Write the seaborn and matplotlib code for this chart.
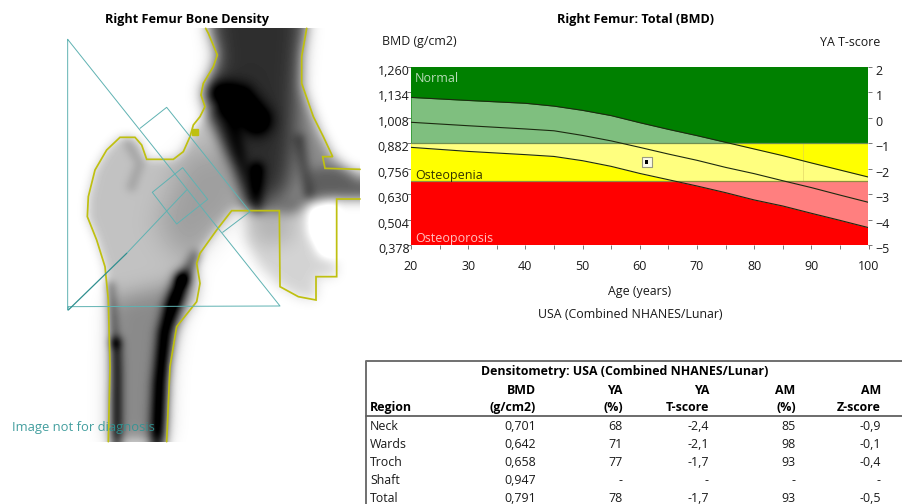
import numpy as np
import pandas as pd
import matplotlib
matplotlib.use("Agg")
import matplotlib.pyplot as plt
import matplotlib.transforms as mtrans
from matplotlib.path import Path
from matplotlib.ticker import MultipleLocator, FixedLocator, FixedFormatter
import seaborn as sns

# ---------- chart values ----------
ages = [20, 30, 40, 45, 50, 55, 60, 65, 70, 75, 80, 85, 90, 95, 100]
upper_curve = [1.108, 1.093, 1.079, 1.065, 1.044, 1.018, 0.983, 0.950, 0.919, 0.886, 0.853, 0.820, 0.784, 0.749, 0.714]
middle_curve = [0.985, 0.968, 0.952, 0.943, 0.920, 0.893, 0.861, 0.828, 0.797, 0.762, 0.731, 0.696, 0.662, 0.625, 0.589]
lower_curve = [0.861, 0.841, 0.825, 0.816, 0.795, 0.767, 0.732, 0.701, 0.670, 0.637, 0.601, 0.571, 0.535, 0.500, 0.464]
patient_age = [61.2]
patient_bmd = [0.788]
bmd_ticks = [0.378, 0.504, 0.630, 0.756, 0.882, 1.008, 1.134, 1.260]
bmd_labels = ["0,378", "0,504", "0,630", "0,756", "0,882", "1,008", "1,134", "1,260"]
t_ticks = [-5, -4, -3, -2, -1, 0, 1, 2]
normal_limit = 0.882
osteopenia_limit = 0.693

# ---------- table values ----------
table_title = "Densitometry: USA (Combined NHANES/Lunar)"
head_1 = ["", "BMD", "YA", "YA", "AM", "AM"]
head_2 = ["Region", "(g/cm2)", "(%)", "T-score", "(%)", "Z-score"]
rows = [["Neck", "0,701", "68", "-2,4", "85", "-0,9"],
        ["Wards", "0,642", "71", "-2,1", "98", "-0,1"],
        ["Troch", "0,658", "77", "-1,7", "93", "-0,4"],
        ["Shaft", "0,947", "-", "-", "-", "-"],
        ["Total", "0,791", "78", "-1,7", "93", "-0,5"]]

# ---------- scan outlines (traced at 3x scan scale) ----------
outline_left = [(325,1325),(330,1100),(325,900),(315,800),(290,720),(262,650),(265,590),(285,510),(320,450),
                (360,412),(405,412),(425,435),(440,478),(520,478),(550,455),(570,410),(580,375),(600,350),
                (615,320),(603,285),(610,250),(640,200),(652,165),(625,100),(617,85)]
outline_right = [(920,85),(905,170),(905,250),(940,350),(970,410),(998,470),(968,470),(975,505),(1080,508)]
outline_low = [(1080,597),(1010,597),(1010,830),(948,830),(948,900),(895,890),(840,860),(838,632),(695,632),
               (650,690),(600,760),(590,790),(600,850),(590,905),(530,980),(510,1100),(500,1325)]
notch_blob = [(585,395)]
femur_poly = [(325,1325),(330,1100),(325,900),(315,800),(290,720),(262,650),(265,590),(285,510),(320,450),
              (360,412),(405,412),(425,435),(440,478),(520,478),(550,455),(570,410),(620,340),(700,300),
              (760,600),(740,632),(695,632),(650,690),(600,760),(590,790),(560,900),(510,1100),(500,1325)]
shaft_poly = [(330,900),(590,840),(530,980),(510,1100),(500,1325),(325,1325)]
bump_poly = [(570,790),(590,790),(600,850),(590,905),(530,980),(520,900)]
neck_poly = [(560,450),(720,450),(740,632),(660,680),(570,800),(470,680)]
pelvis_poly = [(625,85),(920,85),(905,170),(905,260),(960,400),(998,470),(1080,540),(1080,597),(940,600),
               (880,640),(740,632),(700,500),(620,340),(610,280),(652,165)]
pelvis_dark = [(640,85),(905,85),(890,250),(880,450),(860,570),(780,625),(690,440),(640,300),(655,170)]
ischium_poly = [(740,640),(838,632),(900,600),(1010,600),(1005,780),(1010,830),(948,830),(948,900),(895,890),
                (840,860),(780,800),(735,720)]
ischium_top = [(745,640),(880,640),(880,720),(780,740)]
ramus_poly = [(975,505),(1080,508),(1080,597),(1010,597),(925,600),(930,510)]
hole_poly = [(925,620),(1010,597),(1005,780),(960,770),(925,700)]
cortex_l = [(348,1030),(350,1120),(350,1325)]
cortex_l_top = [(332,860),(345,1030)]
cortex_r = [(545,840),(515,920),(495,1000),(480,1150),(472,1325)]
cortex_r_top = [(585,770),(545,840)]
cortex_p1 = [(650,280),(720,300),(770,360)]
cortex_p2 = [(770,510),(770,620)]
cortex_p3 = [(900,420),(925,580)]
cortex_g = [(385,430),(420,490),(395,560)]
roi_triangle = [(203,118),(203,930),(205,920),(840,918),(203,118)]
roi_neck = [(420,385),(500,322),(750,635),(668,697)]
roi_square = [(457,577),(548,503),(623,598),(530,672),(457,577)]
roi_rise = [(380,760),(560,570)]
roi_rise_dark = [(205,930),(380,760)]

# ---------- scan raster ----------
gx, gy = np.meshgrid(np.arange(0, 1080, 3) + 1.5, np.arange(85, 1325, 3) + 1.5)
points = np.column_stack([gx.ravel(), gy.ravel()])

def blur(a, s):
    k = np.exp(-0.5 * (np.arange(-int(3*s), int(3*s)+1) / s) ** 2)
    k /= k.sum()
    a = np.pad(a, int(3*s), mode="edge")
    a = np.apply_along_axis(lambda r: np.convolve(r, k, mode="same"), 0, a)
    a = np.apply_along_axis(lambda r: np.convolve(r, k, mode="same"), 1, a)
    n = int(3*s)
    return a[n:-n, n:-n]

def poly(v, s):
    return blur(Path(v).contains_points(points).reshape(gx.shape).astype(float), s / 3)

def stroke(v, w):
    d = np.full(gx.shape, 1e9)
    for (x0, y0), (x1, y1) in zip(v[:-1], v[1:]):
        dx, dy = x1 - x0, y1 - y0
        t = np.clip(((gx - x0) * dx + (gy - y0) * dy) / (dx*dx + dy*dy), 0, 1)
        d = np.minimum(d, np.hypot(gx - x0 - t*dx, gy - y0 - t*dy))
    return np.exp(-(d / w) ** 2)

dark = (0.24 * poly(femur_poly, 12) + 0.22 * poly(shaft_poly, 30) + 0.18 * poly(bump_poly, 14)
        + 0.14 * poly(neck_poly, 40) + 0.46 * poly(pelvis_poly, 16) + 0.36 * poly(pelvis_dark, 30)
        + 0.17 * poly(ischium_poly, 16) + 0.14 * poly(ischium_top, 30) + 0.17 * poly(ramus_poly, 14)
        - 0.30 * poly(hole_poly, 14)
        + 0.52 * stroke(cortex_l, 18) + 0.28 * stroke(cortex_l_top, 15)
        + 0.70 * stroke(cortex_r, 24) + 0.30 * stroke(cortex_r_top, 18)
        + 0.42 * stroke(cortex_p1, 42) + 0.30 * stroke(cortex_p2, 22) + 0.20 * stroke(cortex_p3, 18)
        + 0.12 * stroke(cortex_g, 16))
scan = 1 - np.clip(blur(dark, 3.0), 0, 1)

# ---------- figure ----------
sns.set_theme(style="white")
plt.rcParams["font.family"] = ["Open Sans", "DejaVu Sans"]
W, H = 903, 504
fig = plt.figure(figsize=(W / 100, H / 100), dpi=100, facecolor="white")

pix = fig.add_axes([0, 0, 1, 1], zorder=1)
pix.imshow(scan, cmap="gray", vmin=0, vmax=1, extent=(0, 360, 1325 / 3, 85 / 3), aspect="auto", interpolation="bilinear")
pix.set_xlim(0, W)
pix.set_ylim(H, 0)
pix.axis("off")

def scaled(v):
    a = np.array(v, dtype=float) / 3
    return a[:, 0], a[:, 1]

for o in (outline_left, outline_right, outline_low):
    pix.plot(*scaled(o), color="#bfc010", lw=1.25, solid_joinstyle="miter")
pix.plot(*scaled(notch_blob), marker="s", ms=4, color="#bfc010", lw=0)
for o in (roi_triangle, roi_neck, roi_square, roi_rise):
    pix.plot(*scaled(o), color="#5fb2b2", lw=0.7)
pix.plot(*scaled(roi_rise_dark), color="#2f8f8f", lw=0.9)

TXT = "#1a1a1a"
pix.text(187, 20, "Right Femur Bone Density", ha="center", va="center", fontsize=9.1, fontweight="bold", color="black")
pix.text(12, 428, "Image not for diagnosis", ha="left", va="center", fontsize=9.4, color="#2f9494", alpha=0.9)
pix.text(636, 20, "Right Femur: Total (BMD)", ha="center", va="center", fontsize=9.1, fontweight="bold", color="black")
pix.text(382, 42, "BMD (g/cm2)", ha="left", va="center", fontsize=8.9, color=TXT)
pix.text(880, 42, "YA T-score", ha="right", va="center", fontsize=8.9, color=TXT)
pix.text(640, 292, "Age (years)", ha="center", va="center", fontsize=8.9, color=TXT)
pix.text(630, 315, "USA (Combined NHANES/Lunar)", ha="center", va="center", fontsize=8.9, color=TXT)

# ---------- chart ----------
L, R, T, B = 411, 868.5, 66.7, 245
ax = fig.add_axes([L / W, 1 - B / H, (R - L) / W, (B - T) / H], zorder=2)
ax.set_xlim(20, 100)
ax.set_ylim(bmd_ticks[0], bmd_ticks[-1])
ax.axhspan(normal_limit, bmd_ticks[-1], color="#008000", lw=0)
ax.axhspan(osteopenia_limit, normal_limit, color="#ffff00", lw=0)
ax.axhspan(bmd_ticks[0], osteopenia_limit, color="#ff0000", lw=0)
ax.fill_between(ages, lower_curve, upper_curve, color="white", alpha=0.5, lw=0)
ax.axvline(88.6, ymin=0.357, ymax=0.57, color="#d8c860", lw=0.6, alpha=0.6)
ax.axhline(normal_limit, color="#6f8f50", lw=0.9)
ax.axhline(osteopenia_limit, color="#8f8f40", lw=0.9)

curves = pd.DataFrame({"age": ages * 3, "bmd": upper_curve + middle_curve + lower_curve,
                       "curve": ["upper"] * 15 + ["middle"] * 15 + ["lower"] * 15})
sns.lineplot(data=curves, x="age", y="bmd", units="curve", estimator=None, color="#1c2a10", lw=0.8, ax=ax, legend=False)
sns.scatterplot(x=patient_age, y=patient_bmd, marker="s", s=42, color="#fbfbe8", edgecolor="#9a9a80", linewidth=0.8, ax=ax, zorder=5)
sns.scatterplot(x=patient_age, y=patient_bmd, marker="s", s=7, color="black", edgecolor="none", ax=ax, zorder=6)
ax.set_xlabel("")
ax.set_ylabel("")

ax.xaxis.set_major_locator(MultipleLocator(10))
ax.xaxis.set_minor_locator(MultipleLocator(5))
ax.yaxis.set_major_locator(FixedLocator(bmd_ticks))
ax.yaxis.set_major_formatter(FixedFormatter(bmd_labels))
ax.tick_params(axis="x", which="both", bottom=True, length=3, width=0.7, color="#777777", labelsize=9, pad=8, labelcolor=TXT)
ax.tick_params(axis="y", left=True, length=3, width=0.7, color="#777777", labelsize=9, pad=-2, labelcolor=TXT)
for s in ax.spines.values():
    s.set_visible(False)
down = mtrans.ScaledTranslation(0, -3 / 100, fig.dpi_scale_trans)
for lab in ax.get_yticklabels():
    lab.set_transform(lab.get_transform() + down)

ax2 = ax.twinx()
ax2.set_ylim(t_ticks[0], t_ticks[-1])
ax2.yaxis.set_major_locator(FixedLocator(t_ticks))
ax2.tick_params(axis="y", right=True, length=3, width=0.7, color="#777777", labelsize=9, pad=2, labelcolor=TXT)
ax2.grid(False)
for s in ax2.spines.values():
    s.set_visible(False)
for lab in ax2.get_yticklabels():
    lab.set_transform(lab.get_transform() + down)

ax.text(0.009, 0.935, "Normal", transform=ax.transAxes, ha="left", va="center", fontsize=9, color="#b8dcb8")
ax.text(0.009, 0.39, "Osteopenia", transform=ax.transAxes, ha="left", va="center", fontsize=9, color="#333300")
ax.text(0.009, 0.035, "Osteoporosis", transform=ax.transAxes, ha="left", va="center", fontsize=9, color="#ffc0c0")

# ---------- table ----------
col_x = [370, 536, 622.7, 709, 795.7, 881]
header_y = [390, 407.7]
row_y = [426.7, 444.7, 462.7, 480.3, 498]
pix.plot([W, 366, 366], [361, 361, 504], color="#707070", lw=1.4)
pix.plot([366, W], [415.7, 415.7], color="#606060", lw=1.3)
pix.text(625, 372, table_title, ha="center", va="center", fontsize=8.9, fontweight="bold", color="black")
for i, x in enumerate(col_x):
    ha = "left" if i == 0 else "right"
    pix.text(x, header_y[0], head_1[i], ha=ha, va="center", fontsize=8.9, fontweight="bold", color="black")
    pix.text(x, header_y[1], head_2[i], ha=ha, va="center", fontsize=8.9, fontweight="bold", color="black")
    for j, r in enumerate(rows):
        pix.text(x, row_y[j], r[i], ha=ha, va="center", fontsize=8.9, color=TXT, clip_on=False)

fig.savefig("out.png", dpi=100)
